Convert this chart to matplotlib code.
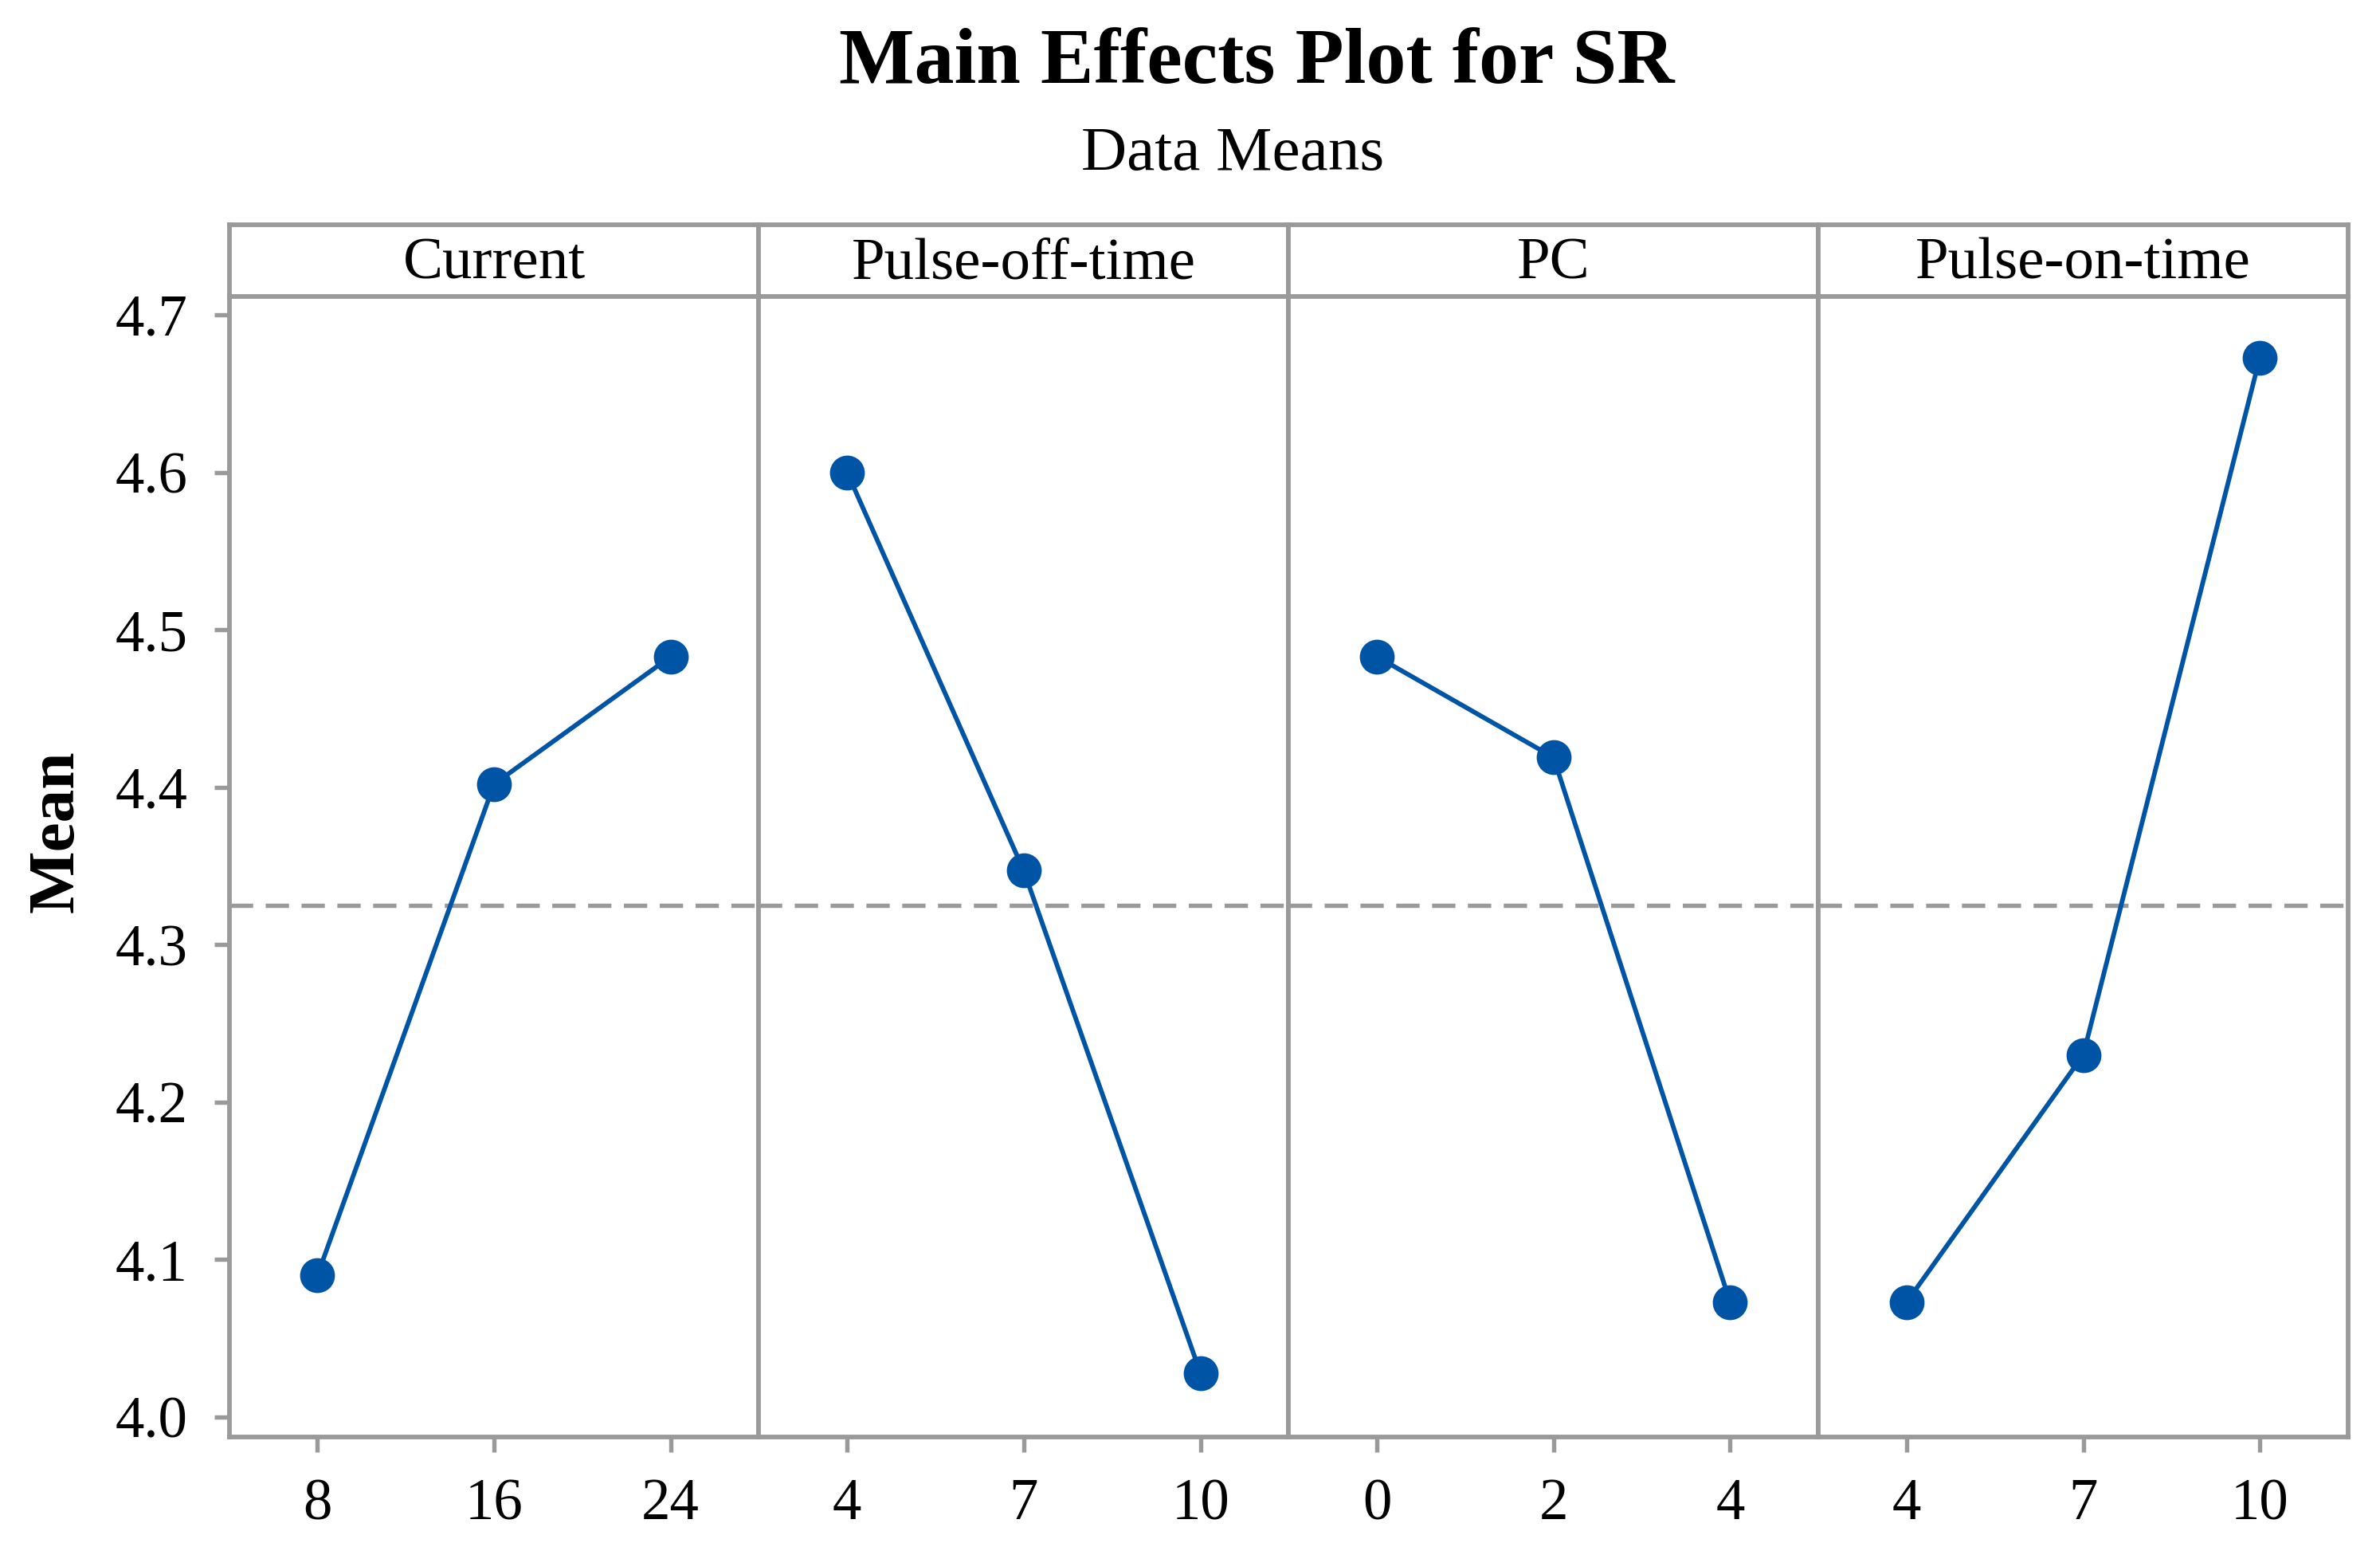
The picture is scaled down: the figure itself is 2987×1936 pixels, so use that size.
import matplotlib
matplotlib.use("Agg")
import matplotlib.pyplot as plt

plt.rcParams['font.family'] = ['Liberation Serif', 'DejaVu Serif']

# data
factors = ['Current', 'Pulse-off-time', 'PC', 'Pulse-on-time']
levels = [['8', '16', '24'], ['4', '7', '10'], ['0', '2', '4'], ['4', '7', '10']]
current_means = [4.090, 4.402, 4.483]
pulse_off_means = [4.600, 4.347, 4.028]
pc_means = [4.483, 4.419, 4.073]
pulse_on_means = [4.073, 4.230, 4.673]
all_means = [current_means, pulse_off_means, pc_means, pulse_on_means]
grand_mean = 4.325
yticks = [4.0, 4.1, 4.2, 4.3, 4.4, 4.5, 4.6, 4.7]

grey = '#9a9a9a'
blue = '#0054a6'

fig = plt.figure(figsize=(2987 / 300, 1936 / 300), dpi=300)

left, right = 0.0963, 0.9866
bottom, ptop, stop = 0.0689, 0.8081, 0.8543
w = (right - left) / len(factors)

for i, (name, labs, vals) in enumerate(zip(factors, levels, all_means)):
    ax = fig.add_axes([left + i * w, bottom, w, ptop - bottom])
    x = list(range(len(vals)))
    ax.plot(x, vals, color=blue, lw=1.4, marker='o', ms=9.5, zorder=3)
    ax.axhline(grand_mean, color=grey, lw=1.3, ls=(0, (5.4, 2.9)), zorder=1)
    ax.set_xlim(-0.5, len(vals) - 0.5)
    ax.set_ylim(3.9875, 4.712)
    ax.set_xticks(x)
    ax.set_xticklabels(labs, fontsize=17.5)
    ax.set_yticks(yticks)
    ax.tick_params(axis='both', direction='out', color=grey, width=1.3, length=4.5, pad=8)
    if i == 0:
        ax.set_yticklabels([f'{t:.1f}' for t in yticks], fontsize=17.5)
    else:
        ax.tick_params(axis='y', left=False, labelleft=False)
    for s in ax.spines.values():
        s.set_color(grey)
        s.set_linewidth(1.4)
    ax.spines['top'].set_visible(False)

    # header strip
    sx = fig.add_axes([left + i * w, ptop, w, stop - ptop])
    sx.set_xticks([])
    sx.set_yticks([])
    for s in sx.spines.values():
        s.set_color(grey)
        s.set_linewidth(1.4)
    sx.text(0.5, 0.45, name, ha='center', va='center', fontsize=18, transform=sx.transAxes)

fig.text(0.528, 0.9587, 'Main Effects Plot for SR', ha='center', va='center',
         fontsize=24, fontweight='bold')
fig.text(0.518, 0.8996, 'Data Means', ha='center', va='center', fontsize=19)
fig.text(0.024, 0.461, 'Mean', ha='center', va='center', rotation=90,
         fontsize=20, fontweight='bold')

fig.savefig('out.png', dpi=300, facecolor='white')
